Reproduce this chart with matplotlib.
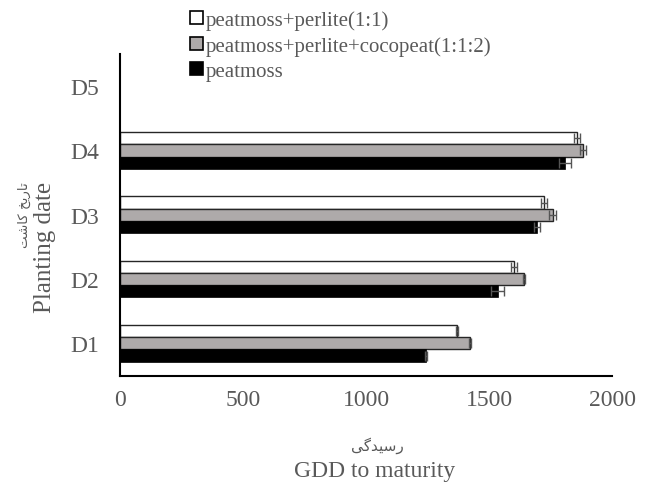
import numpy as np
import matplotlib
matplotlib.use("Agg")
from matplotlib import pyplot as plt
from matplotlib.patches import Patch

plt.rcParams['font.family'] = ['Liberation Serif', 'DejaVu Sans']

# planting dates, bottom to top
dates = ["D1", "D2", "D3", "D4", "D5"]

# GDD to maturity for each substrate (no data recorded for D5)
perlite_11 = [1369, 1600, 1724, 1856]
perlite_112 = [1423, 1642, 1759, 1881]
peatmoss = [1244, 1535, 1695, 1810]

# error bars
perlite_11_err = [4, 12, 13, 12]
perlite_112_err = [4, 5, 15, 12]
peatmoss_err = [4, 25, 14, 25]

names = ["peatmoss+perlite(1:1)", "peatmoss+perlite+cocopeat(1:1:2)", "peatmoss"]

txt = "#595959"
fig = plt.figure(figsize=(6.49, 4.89), dpi=100)
ax = fig.add_axes([120/649, 1 - 376.5/489, 492/649, 321.5/489])

y = np.arange(len(dates))
yd = y[:len(peatmoss)]
h = 0.19
ekw = dict(ecolor="#555555", elinewidth=1, capsize=3.5, capthick=1)

ax.barh(yd + h, perlite_11, height=h, color="white", edgecolor="#262626",
        linewidth=1, xerr=perlite_11_err, error_kw=ekw)
ax.barh(yd, perlite_112, height=h, color="#aeaaaa", edgecolor="#262626",
        linewidth=1, xerr=perlite_112_err, error_kw=ekw)
ax.barh(yd - h, peatmoss, height=h, color="black", edgecolor="black",
        linewidth=0.5, xerr=peatmoss_err, error_kw=ekw)

ax.set_xlim(0, 2000)
ax.set_ylim(-0.5, 4.5)
ax.set_xticks([0, 500, 1000, 1500, 2000])
ax.set_yticks(y)
ax.set_yticklabels(dates)
ax.tick_params(axis="both", length=0, labelsize=17, colors=txt)
ax.tick_params(axis="x", pad=10)
ax.tick_params(axis="y", pad=15)

for s in ["top", "right"]:
    ax.spines[s].set_visible(False)
for s in ["left", "bottom"]:
    ax.spines[s].set_linewidth(1.5)
    ax.spines[s].set_color("black")

# axis titles, Persian above/left of English
fig.text(377/649, 1 - 446/489, "\ufbfd\ufb94\ufeaa\ufbff\ufeb3\ufead",
         ha="center", va="center", fontsize=11, color=txt,
         family=["DejaVu Sans"])
fig.text(375/649, 1 - 472/489, "GDD to maturity", ha="center", va="center",
         fontsize=17, color=txt)
fig.text(24/649, 1 - 182/489,
         "\ufe96\ufeb7\ufe8e\ufb90 \ufea6\ufbfe\ufead\ufe8e\ufe97",
         ha="center", va="top", rotation=90, fontsize=9.5, color=txt,
         family=["DejaVu Sans"])
fig.text(45/649, 1 - 247/489, "Planting date", ha="center", va="center",
         rotation=90, fontsize=18, color=txt)

handles = [Patch(facecolor="white", edgecolor="black", linewidth=1.2),
           Patch(facecolor="#aeaaaa", edgecolor="black", linewidth=1.2),
           Patch(facecolor="black", edgecolor="black", linewidth=1.2)]
leg = fig.legend(handles, names, loc="upper left",
                 bbox_to_anchor=(190/649, 1 - 11/489), frameon=False,
                 fontsize=15, handlelength=0.6, handleheight=0.6,
                 handletextpad=0.15, labelspacing=0.3, borderpad=0,
                 borderaxespad=0)
for t in leg.get_texts():
    t.set_color(txt)

fig.savefig("out.png", dpi=100)
